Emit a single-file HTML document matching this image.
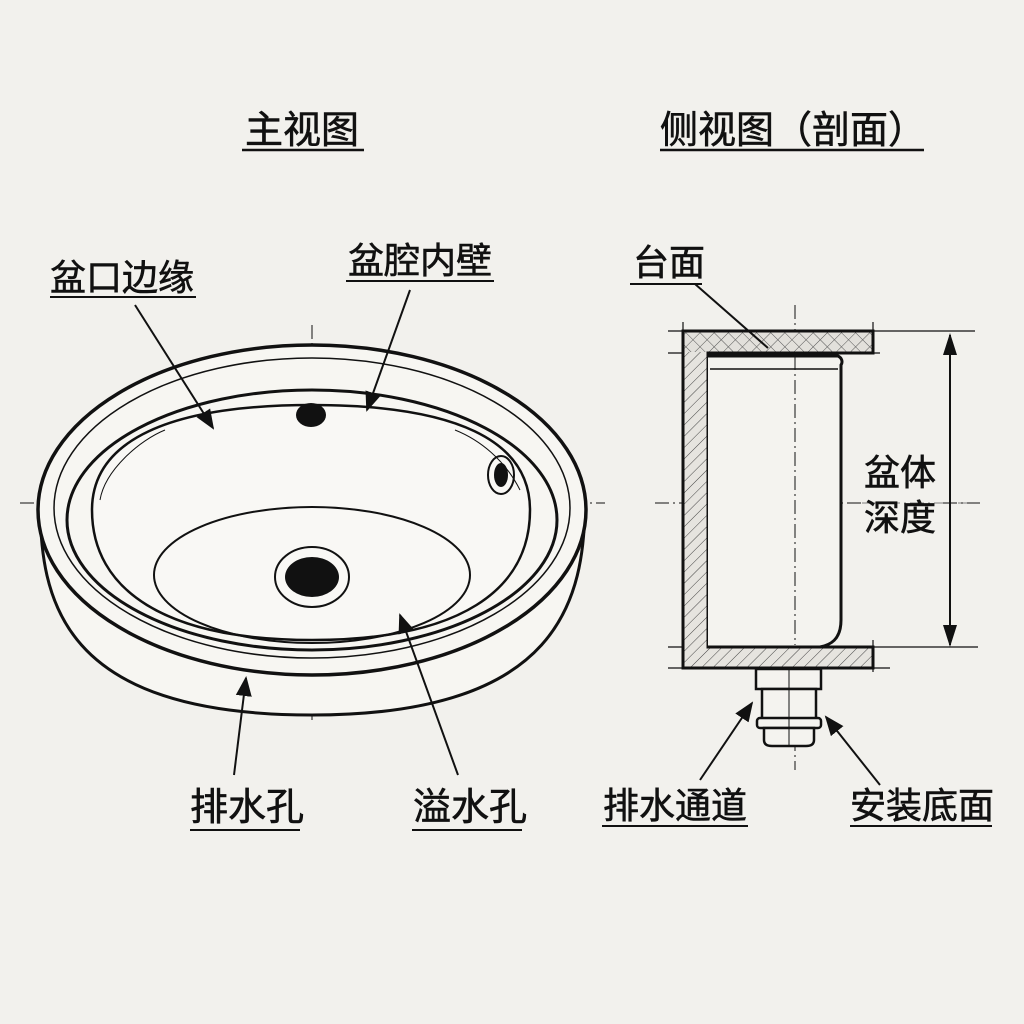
<!DOCTYPE html>
<html><head><meta charset="utf-8"><style>
body{margin:0;background:#f2f1ed;}
svg{display:block}
text{font-family:"Liberation Sans","Noto Sans CJK SC",sans-serif;fill:#111;stroke:#111;stroke-width:0.6}
</style></head><body>
<svg width="1024" height="1024" viewBox="0 0 1024 1024" xmlns="http://www.w3.org/2000/svg">
<defs>
<pattern id="h" width="8" height="8" patternUnits="userSpaceOnUse" patternTransform="rotate(45)">
<rect width="8" height="8" fill="#e6e4df"/><line x1="0" y1="0" x2="0" y2="8" stroke="#444" stroke-width="1"/></pattern>
<pattern id="x" width="10" height="10" patternUnits="userSpaceOnUse" patternTransform="rotate(45)">
<rect width="10" height="10" fill="#e2e0db"/><line x1="0" y1="0" x2="0" y2="10" stroke="#555" stroke-width="1"/><line x1="0" y1="0" x2="10" y2="0" stroke="#555" stroke-width="1"/></pattern>
<marker id="a" markerWidth="10" markerHeight="10" refX="9" refY="5" orient="auto"><path d="M0,1 L10,5 L0,9 z" fill="#111"/></marker>
</defs>
<rect width="1024" height="1024" fill="#f2f1ed"/>
<text x="245" y="143" font-size="38">主视图</text>
<line x1="242" y1="150" x2="364" y2="150" stroke="#111" stroke-width="2.5"/>
<text x="660" y="143" font-size="38">侧视图（剖面）</text>
<line x1="660" y1="150" x2="924" y2="150" stroke="#111" stroke-width="2.5"/>

<g fill="none" stroke="#111">
<line x1="312" y1="325" x2="312" y2="720" stroke-width="1" stroke-dasharray="14,4,2,4"/>
<line x1="20" y1="503" x2="605" y2="503" stroke-width="1" stroke-dasharray="14,4,2,4"/>
<path d="M40,500 C40,600 60,715 312,715 C560,715 585,600 585,500" stroke-width="3" fill="#f7f6f2"/>
<ellipse cx="312" cy="510" rx="274" ry="165" stroke-width="3.5" fill="#f7f6f2"/>
<ellipse cx="312" cy="508" rx="258" ry="150" stroke-width="1.5"/>
<ellipse cx="312" cy="520" rx="245" ry="130" stroke-width="3"/>
<path d="M92,510 C92,440 170,405 312,405 C455,405 530,440 530,510 C530,590 460,640 312,640 C165,640 92,590 92,510Z" stroke-width="2.5" fill="#f9f8f5"/>
<ellipse cx="312" cy="575" rx="158" ry="68" stroke-width="2"/>
<path d="M100,500 C105,470 140,440 165,430" stroke-width="1"/>
<path d="M520,490 C505,460 480,440 455,430" stroke-width="1"/>
<ellipse cx="312" cy="577" rx="37" ry="30" stroke-width="2"/>
</g>
<ellipse cx="312" cy="577" rx="27" ry="20" fill="#111"/>
<ellipse cx="311" cy="415" rx="15" ry="12" fill="#111"/>
<ellipse cx="501" cy="475" rx="13" ry="19" fill="none" stroke="#111" stroke-width="2"/>
<ellipse cx="501" cy="475" rx="7" ry="12" fill="#111"/>

<text x="50" y="290" font-size="36">盆口边缘</text>
<line x1="50" y1="297" x2="196" y2="297" stroke="#111" stroke-width="2"/>
<line x1="135" y1="305" x2="213" y2="428" stroke="#111" stroke-width="2" marker-end="url(#a)"/>
<text x="348" y="273" font-size="36">盆腔内壁</text>
<line x1="346" y1="281" x2="494" y2="281" stroke="#111" stroke-width="2"/>
<line x1="410" y1="290" x2="367" y2="410" stroke="#111" stroke-width="2" marker-end="url(#a)"/>
<text x="190" y="820" font-size="38">排水孔</text>
<line x1="190" y1="830" x2="300" y2="830" stroke="#111" stroke-width="2"/>
<line x1="234" y1="775" x2="246" y2="678" stroke="#111" stroke-width="2" marker-end="url(#a)"/>
<text x="413" y="820" font-size="38">溢水孔</text>
<line x1="412" y1="830" x2="522" y2="830" stroke="#111" stroke-width="2"/>
<line x1="458" y1="775" x2="400" y2="615" stroke="#111" stroke-width="2" marker-end="url(#a)"/>

<g stroke="#111" fill="none">
<line x1="795" y1="305" x2="795" y2="770" stroke-width="1" stroke-dasharray="14,4,2,4"/>
<line x1="655" y1="503" x2="980" y2="503" stroke-width="1" stroke-dasharray="14,4,2,4"/>
<line x1="668" y1="331" x2="975" y2="331" stroke-width="1.2"/>
<line x1="668" y1="353" x2="880" y2="353" stroke-width="1.2"/>
<line x1="668" y1="647" x2="978" y2="647" stroke-width="1.2"/>
<line x1="668" y1="668" x2="890" y2="668" stroke-width="1.2"/>
<line x1="683" y1="322" x2="683" y2="668" stroke-width="1.2"/>
<line x1="873" y1="322" x2="873" y2="345" stroke-width="1.2"/>
<line x1="873" y1="640" x2="873" y2="672" stroke-width="1.2"/>
</g>
<path d="M683,331 H873 V353 H708 V647 H873 V668 H683 Z" fill="url(#h)" stroke="#111" stroke-width="3"/>
<rect x="684" y="332" width="188" height="20" fill="url(#x)"/>
<path d="M683,331 H873 V353 H708 V647 H873 V668 H683 Z" fill="none" stroke="#111" stroke-width="3"/>
<path d="M708,356 H838 C842,358 843,362 841,365 V620 C841,640 830,645 820,647 H708" fill="#f4f3ef" stroke="#111" stroke-width="3"/>
<line x1="710" y1="369" x2="838" y2="369" stroke="#111" stroke-width="1.5"/>
<line x1="795" y1="356" x2="795" y2="645" stroke="#111" stroke-width="1" stroke-dasharray="14,4,2,4"/>
<g stroke="#111" stroke-width="2.5" fill="#f4f3ef">
<rect x="756" y="669" width="65" height="20"/>
<rect x="762" y="689" width="54" height="32"/>
<rect x="757" y="718" width="64" height="10" rx="3"/>
<path d="M764,728 H814 V740 Q814,746 806,746 H772 Q764,746 764,740 Z"/>
</g>
<line x1="789" y1="669" x2="789" y2="745" stroke="#111" stroke-width="1"/>
<line x1="950" y1="335" x2="950" y2="645" stroke="#111" stroke-width="2"/>
<path d="M943,355 L950,333 L957,355Z M943,625 L950,647 L957,625Z" fill="#111"/>
<rect x="862" y="450" width="80" height="90" fill="#f2f1ed"/>
<text x="864" y="485" font-size="36">盆体</text>
<text x="864" y="530" font-size="36">深度</text>
<line x1="862" y1="503" x2="980" y2="503" stroke="#111" stroke-width="1" stroke-dasharray="14,4,2,4" opacity="0.5"/>
<text x="633" y="275" font-size="36">台面</text>
<line x1="630" y1="284" x2="702" y2="284" stroke="#111" stroke-width="2"/>
<line x1="695" y1="284" x2="768" y2="348" stroke="#111" stroke-width="2"/>
<text x="603" y="818" font-size="36">排水通道</text>
<line x1="602" y1="826" x2="748" y2="826" stroke="#111" stroke-width="2"/>
<line x1="700" y1="780" x2="752" y2="703" stroke="#111" stroke-width="2" marker-end="url(#a)"/>
<text x="850" y="818" font-size="36">安装底面</text>
<line x1="850" y1="826" x2="992" y2="826" stroke="#111" stroke-width="2"/>
<line x1="880" y1="785" x2="826" y2="717" stroke="#111" stroke-width="2" marker-end="url(#a)"/>
</svg>
</body></html>
